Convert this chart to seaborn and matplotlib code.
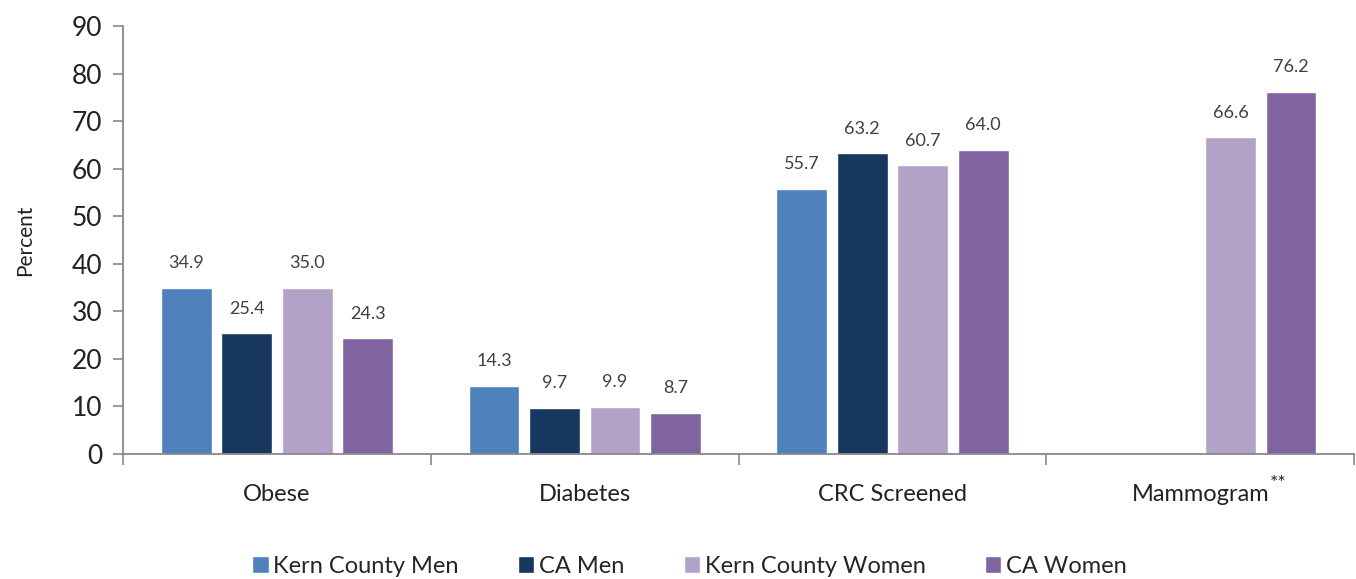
import matplotlib
matplotlib.use("Agg")
import matplotlib.pyplot as plt
import seaborn as sns
import pandas as pd
import numpy as np

# data
categories = ["Obese", "Diabetes", "CRC Screened", "Mammogram"]
groups = ["Kern County Men", "CA Men", "Kern County Women", "CA Women"]
kern_men = [34.9, 14.3, 55.7, np.nan]
ca_men = [25.4, 9.7, 63.2, np.nan]
kern_women = [35.0, 9.9, 60.7, 66.6]
ca_women = [24.3, 8.7, 64.0, 76.2]
colors = ["#4f81bd", "#17375e", "#b3a2c7", "#8064a2"]

rows = []
for g, vals in zip(groups, [kern_men, ca_men, kern_women, ca_women]):
    for c, v in zip(categories, vals):
        rows.append({"category": c, "group": g, "value": v})
df = pd.DataFrame(rows).dropna()

sns.set_theme(style="white")
plt.rcParams["font.family"] = ["Lato", "DejaVu Sans"]

fig = plt.figure(figsize=(13.56, 5.79), dpi=100)
ax = fig.add_axes([0.0907, 0.216, 0.908, 0.739])

sns.barplot(data=df, x="category", y="value", hue="group",
            order=categories, hue_order=groups, palette=colors,
            width=0.786, gap=0.16, ax=ax, errorbar=None, saturation=1)

for cont in ax.containers:
    ax.bar_label(cont, fmt="%.1f", padding=12, fontsize=13, color="#404040")

ax.set_ylim(0, 90)
ax.set_xlim(-0.5, 3.5)
ax.set_yticks(range(0, 91, 10))
ax.tick_params(axis="y", labelsize=19, length=7, width=1.2, color="#888888",
               left=True, pad=8, labelcolor="#222222")
ax.tick_params(axis="x", labelsize=17, length=0, pad=22, labelcolor="#222222")
ax.set_xticks(np.arange(-0.5, 4, 1), minor=True)
ax.tick_params(axis="x", which="minor", bottom=True, length=8, width=1.2,
               color="#888888")
ax.set_xlabel("")
ax.set_ylabel("Percent", fontsize=15, labelpad=26, color="#222222")

# superscript asterisks after "Mammogram"
ax.annotate("**", xy=(3, 0), xycoords=("data", "axes fraction"),
            xytext=(50, -21), textcoords="offset points",
            fontsize=14, color="#222222", ha="left", va="center")

sns.despine(ax=ax)
for s in ["left", "bottom"]:
    ax.spines[s].set_color("#888888")
    ax.spines[s].set_linewidth(1.3)

ax.legend(loc="center", bbox_to_anchor=(0.46, -0.262), ncol=4,
          frameon=False, fontsize=17, handlelength=0.7, handleheight=0.7,
          handletextpad=0.2, columnspacing=2.5, borderaxespad=0)

fig.savefig("out.png", dpi=100)
